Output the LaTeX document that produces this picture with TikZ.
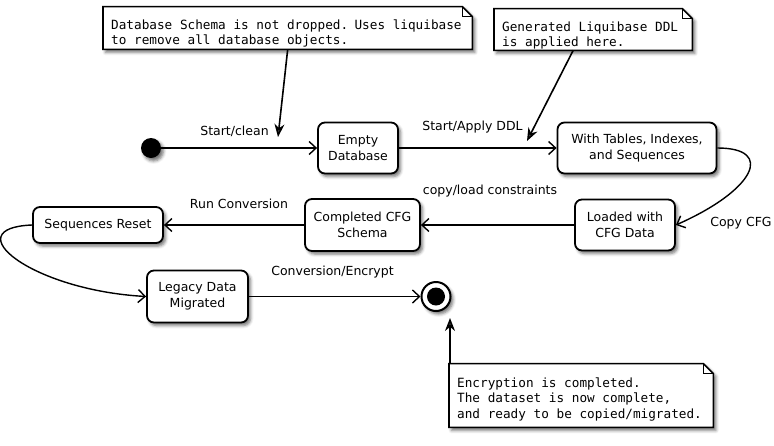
\documentclass[tikz,border=0pt]{standalone}
\usepackage{fontspec}
\setsansfont{DejaVu Sans}
\setmonofont{DejaVu Sans Mono}
\usetikzlibrary{arrows.meta,backgrounds,calc,positioning,shadows.blur}

\newcommand{\foldsize}{10pt}

\tikzset{
  font=\sffamily\fontsize{12.5}{16}\selectfont,
  softshadow/.style={
    blur shadow={shadow xshift=2.5pt, shadow yshift=-3pt,
                 shadow blur radius=3pt, shadow opacity=55}
  },
  trans/.style={
    -{Straight Barb[length=7pt,width=13pt]},
    line width=1.4pt
  },
  hint/.style={
    -{Stealth[length=13pt,width=10pt]},
    line width=1.6pt
  },
  state/.style={
    rectangle,
    rounded corners=7pt,
    draw,
    line width=1.8pt,
    fill=white,
    align=center,
    inner sep=2pt,
    softshadow
  },
  startdot/.style={circle, fill=black, minimum size=20pt, inner sep=0pt, softshadow},
  enddot/.style={circle, draw, fill=white, line width=2pt, minimum size=29pt,
                 inner sep=0pt, softshadow},
  enddotcore/.style={circle, fill=black, minimum size=18pt, inner sep=0pt},
  tlabel/.style={inner sep=1pt},
  notetext/.style={
    font=\ttfamily\fontsize{12.7}{15.5}\selectfont,
    execute at begin node={\spaceskip=7.65pt\relax},
    align=left,
    anchor=base west,
    inner xsep=8pt,
    inner ysep=0pt
  },
  notecard/.style={draw, fill=white, line width=1.6pt, softshadow},
  noteedge/.style={draw, line width=1.2pt}
}

% dog-eared outline behind a note node: #2 = top padding, #3 = bottom padding
\newcommand{\notecard}[3]{%
  \begin{pgfonlayer}{background}
    \filldraw[notecard]
      ([yshift=-#3]#1.south west) -- ([yshift=#2]#1.north west)
      -- ([xshift=-\foldsize, yshift=#2]#1.north east)
      -- ([yshift=#2-\foldsize]#1.north east)
      -- ([yshift=-#3]#1.south east) -- cycle;
    \draw[noteedge]
      ([xshift=-\foldsize, yshift=#2]#1.north east)
        |- ([yshift=#2-\foldsize]#1.north east);
  \end{pgfonlayer}}

\begin{document}
\begin{tikzpicture}[x=1pt,y=-1pt]
  \useasboundingbox (0,0) rectangle (774,445);

  % ============================================================
  % States
  % ============================================================
  \node[startdot] (init) at (151,148) {};

  \node[state, minimum width=80pt, minimum height=51pt]
       (empty) at (358,148) {Empty\\Database};
  \node[state, minimum width=159pt, minimum height=51pt]
       (tables) at (637,148) {With Tables, Indexes,\\and Sequences};
  \node[state, minimum width=100pt, minimum height=51pt]
       (loaded) at (625,225) {Loaded with\\CFG Data};
  \node[state, minimum width=115pt, minimum height=52pt]
       (completed) at (362.5,225) {Completed CFG\\Schema};
  \node[state, minimum width=130pt, minimum height=36pt]
       (seqreset) at (98,225) {Sequences Reset};
  \node[state, minimum width=101pt, minimum height=52pt]
       (legacy) at (197.5,296.5) {Legacy Data\\Migrated};

  \node[enddot] (final) at (436,296.5) {};
  \node[enddotcore] (final_core) at (final) {};

  % ============================================================
  % Transitions
  % ============================================================
  \draw[trans] (init) -- (empty);
  \draw[trans] (empty) -- (tables);
  \draw[trans] (tables.east) .. controls (775,148) and (755,190) .. (loaded.east);
  \draw[trans] (loaded) -- (completed);
  \draw[trans] (completed) -- (seqreset);
  \draw[trans] (seqreset.west) .. controls (-45,228) and (30,290) .. (legacy.west);
  \draw[trans] (legacy) -- (final);

  \node[tlabel] (lbl_clean) at (234.5,131) {Start/clean};
  \node[tlabel] (lbl_ddl) at (472.5,127) {Start/Apply DDL};
  \node[tlabel] (lbl_constraints) at (490,191) {copy/load constraints};
  \node[tlabel] (lbl_cfg) at (741,223) {Copy CFG};
  \node[tlabel] (lbl_run) at (239,204) {Run Conversion};
  \node[tlabel] (lbl_encrypt) at (332.5,272) {Conversion/Encrypt};

  % ============================================================
  % Notes (anchored on the first baseline)
  % ============================================================
  \node[notetext, text width=353pt]
       (note_clean) at (103,29)
       {Database Schema is not dropped. Uses liquibase\\
        to remove all database objects.};
  \notecard{note_clean}{12.5pt}{2pt}
  \coordinate (clean_tip) at (278,137);
  \draw[hint] ([yshift=-2pt]note_clean.south) -- (clean_tip);

  \node[notetext, text width=182pt]
       (note_ddl) at (494,31)
       {Generated Liquibase DDL\\
        is applied here.};
  \notecard{note_ddl}{12.5pt}{1pt}
  \coordinate (ddl_tip) at (527,141);
  \draw[hint] ([xshift=-20pt, yshift=-1pt]note_ddl.south) -- (ddl_tip);

  \node[notetext, text width=248pt]
       (note_done) at (449,387)
       {Encryption is completed.\\
        The dataset is now complete,\\
        and ready to be copied/migrated.};
  \notecard{note_done}{13.5pt}{6.5pt}
  \coordinate (done_tip) at (450,318);
  \draw[hint] ([xshift=1pt, yshift=13.5pt]note_done.north west) -- (done_tip);

\end{tikzpicture}
\end{document}
